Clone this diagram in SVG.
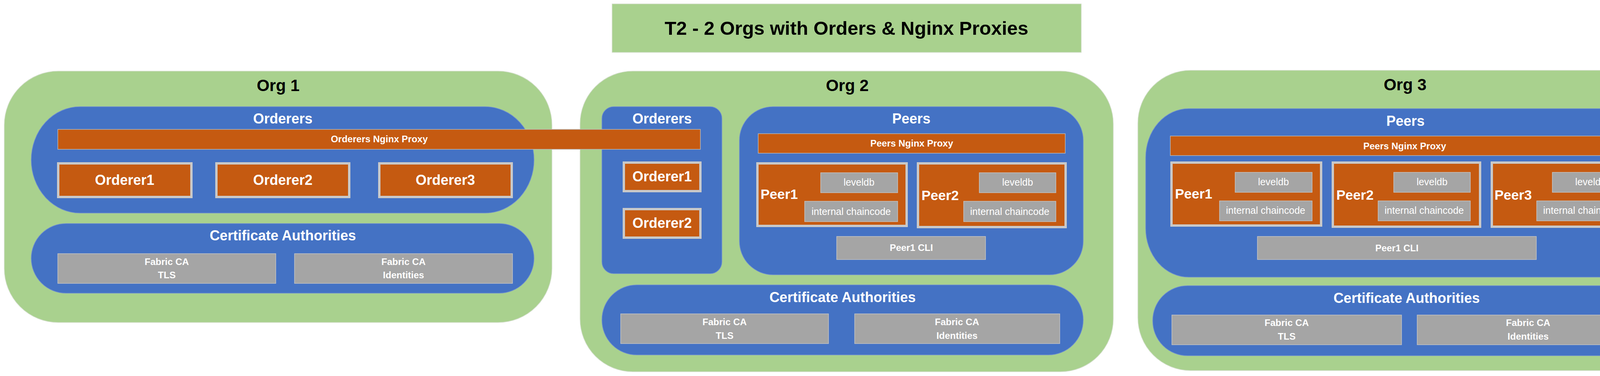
<svg xmlns="http://www.w3.org/2000/svg" width="4292" height="962" viewBox="0 0 4292 962">
<style>
  text { font-family: "Liberation Sans", Arial, sans-serif; font-weight: bold; fill: #ffffff; text-anchor: middle; }
  .org { fill: #A9D18E; stroke: #cfdcc6; stroke-width: 1.5; }
  .blue { fill: #4472C4; stroke: #6f8fcf; stroke-width: 1.5; }
  .bar { fill: #C55A11; stroke: #b8b8b8; stroke-width: 1.5; }
  .node { fill: #C55A11; stroke: #C9C9C9; stroke-width: 6; }
  .gray { fill: #A5A5A5; stroke: #c3c3c3; stroke-width: 1.5; }
  .title { fill: #000000; font-size: 42px; }
  .h2 { font-size: 36px; }
  .bt { font-size: 24px; }
  .nt { font-size: 36px; }
  .pt { font-size: 35px; text-anchor: start; }
  .lt { font-size: 25px; font-weight: normal; }
</style>

<g id="title">
  <rect x="1567" y="10" width="1201" height="124" fill="#A9D18E" stroke="#cfdcc6" stroke-width="1.5"/>
  <text x="2167" y="89" style="fill:#000000;font-size:49px">T2 - 2 Orgs with Orders &amp; Nginx Proxies</text>
</g>

<g id="org1">
  <rect class="org" x="11" y="182" width="1402" height="643" rx="138" ry="138"/>
  <text class="title" x="712" y="233">Org 1</text>
  <g id="org1-orderers">
    <rect class="blue" x="80" y="273" width="1287" height="272" rx="125" ry="136"/>
    <text class="h2" x="724" y="316">Orderers</text>
    <g id="org1-orderer1">
      <rect class="node" x="149" y="418" width="341" height="86"/>
      <text class="nt" x="319" y="473">Orderer1</text>
    </g>
    <g id="org1-orderer2">
      <rect class="node" x="554" y="418" width="340" height="86"/>
      <text class="nt" x="724" y="473">Orderer2</text>
    </g>
    <g id="org1-orderer3">
      <rect class="node" x="971" y="418" width="339" height="86"/>
      <text class="nt" x="1140" y="473">Orderer3</text>
    </g>
  </g>
  <g id="org1-ca">
    <rect class="blue" x="80" y="572" width="1287" height="178" rx="89" ry="89"/>
    <text class="h2" x="724" y="615">Certificate Authorities</text>
    <g id="org1-ca-tls">
      <rect class="gray" x="148" y="649" width="558" height="76"/>
      <text class="bt" x="427" y="678">Fabric CA</text>
      <text class="bt" x="427" y="712">TLS</text>
    </g>
    <g id="org1-ca-identities">
      <rect class="gray" x="754" y="649" width="558" height="76"/>
      <text class="bt" x="1033" y="678">Fabric CA</text>
      <text class="bt" x="1033" y="712">Identities</text>
    </g>
  </g>
</g>

<g id="org2">
  <rect class="org" x="1485" y="182" width="1365" height="769" rx="135" ry="135"/>
  <text class="title" x="2169" y="233">Org 2</text>
  <g id="org2-orderers">
    <rect class="blue" x="1541" y="273" width="307" height="427" rx="30" ry="30"/>
    <text class="h2" x="1695" y="316">Orderers</text>
    <g id="org2-orderer1">
      <rect class="node" x="1597" y="416" width="196" height="73"/>
      <text class="nt" x="1695" y="464">Orderer1</text>
    </g>
    <g id="org2-orderer2">
      <rect class="node" x="1597" y="535" width="196" height="73"/>
      <text class="nt" x="1695" y="583">Orderer2</text>
    </g>
  </g>
  <g id="org2-peers">
    <rect class="blue" x="1893" y="273" width="880" height="430" rx="86" ry="86"/>
    <text class="h2" x="2333" y="316">Peers</text>
    <g id="org2-peers-proxy">
      <rect class="bar" x="1941" y="342" width="786" height="50"/>
      <text class="bt" x="2334" y="375">Peers Nginx Proxy</text>
    </g>
    <g id="org2-peer1">
      <rect class="node" x="1939" y="418" width="382" height="160"/>
      <text class="pt" x="1947" y="509">Peer1</text>
      <rect class="gray" x="2101" y="442" width="197" height="51"/>
      <text class="lt" x="2199" y="475">leveldb</text>
      <rect class="gray" x="2060" y="515" width="238" height="52"/>
      <text class="lt" x="2179" y="550">internal chaincode</text>
    </g>
    <g id="org2-peer2">
      <rect class="node" x="2350" y="418" width="378" height="163"/>
      <text class="pt" x="2359" y="512">Peer2</text>
      <rect class="gray" x="2507" y="442" width="196" height="51"/>
      <text class="lt" x="2605" y="475">leveldb</text>
      <rect class="gray" x="2467" y="515" width="236" height="52"/>
      <text class="lt" x="2585" y="550">internal chaincode</text>
    </g>
    <g id="org2-peer1-cli">
      <rect class="gray" x="2142" y="605" width="381" height="59"/>
      <text class="bt" x="2333" y="642">Peer1 CLI</text>
    </g>
  </g>
  <g id="org2-ca">
    <rect class="blue" x="1541" y="729" width="1232" height="179" rx="89" ry="89"/>
    <text class="h2" x="2157" y="773">Certificate Authorities</text>
    <g id="org2-ca-tls">
      <rect class="gray" x="1589" y="803" width="532" height="76"/>
      <text class="bt" x="1855" y="832">Fabric CA</text>
      <text class="bt" x="1855" y="867">TLS</text>
    </g>
    <g id="org2-ca-identities">
      <rect class="gray" x="2188" y="803" width="525" height="76"/>
      <text class="bt" x="2450" y="832">Fabric CA</text>
      <text class="bt" x="2450" y="867">Identities</text>
    </g>
  </g>
</g>

<g id="org1-orderers-proxy">
  <rect class="bar" x="148" y="331" width="1645" height="51"/>
  <text class="bt" x="971" y="364">Orderers Nginx Proxy</text>
</g>

<g id="org3">
  <rect class="org" x="2913" y="180" width="1367" height="768" rx="135" ry="135"/>
  <text class="title" x="3597" y="231">Org 3</text>
  <g id="org3-peers">
    <rect class="blue" x="2933" y="278" width="1330" height="431" rx="110" ry="125"/>
    <text class="h2" x="3598" y="322">Peers</text>
    <g id="org3-peers-proxy">
      <rect class="bar" x="2996" y="348" width="1200" height="50"/>
      <text class="bt" x="3596" y="382">Peers Nginx Proxy</text>
    </g>
    <g id="org3-peer1">
      <rect class="node" x="2999" y="416" width="383" height="161"/>
      <text class="pt" x="3008" y="508">Peer1</text>
      <rect class="gray" x="3162" y="441" width="197" height="51"/>
      <text class="lt" x="3260" y="474">leveldb</text>
      <rect class="gray" x="3122" y="514" width="237" height="51"/>
      <text class="lt" x="3240" y="547">internal chaincode</text>
    </g>
    <g id="org3-peer2">
      <rect class="node" x="3412" y="416" width="377" height="164"/>
      <text class="pt" x="3421" y="511">Peer2</text>
      <rect class="gray" x="3568" y="441" width="196" height="51"/>
      <text class="lt" x="3666" y="474">leveldb</text>
      <rect class="gray" x="3528" y="514" width="236" height="51"/>
      <text class="lt" x="3646" y="547">internal chaincode</text>
    </g>
    <g id="org3-peer3">
      <rect class="node" x="3819" y="416" width="376" height="164"/>
      <text class="pt" x="3826" y="511">Peer3</text>
      <rect class="gray" x="3974" y="441" width="197" height="51"/>
      <text class="lt" x="4072" y="474">leveldb</text>
      <rect class="gray" x="3934" y="514" width="237" height="51"/>
      <text class="lt" x="4052" y="547">internal chaincode</text>
    </g>
    <g id="org3-peer1-cli">
      <rect class="gray" x="3219" y="605" width="714" height="59"/>
      <text class="bt" x="3576" y="643">Peer1 CLI</text>
    </g>
  </g>
  <g id="org3-ca">
    <rect class="blue" x="2951" y="731" width="1300" height="179" rx="89" ry="89"/>
    <text class="h2" x="3601" y="775">Certificate Authorities</text>
    <g id="org3-ca-tls">
      <rect class="gray" x="3000" y="806" width="588" height="76"/>
      <text class="bt" x="3294" y="834">Fabric CA</text>
      <text class="bt" x="3294" y="869">TLS</text>
    </g>
    <g id="org3-ca-identities">
      <rect class="gray" x="3628" y="806" width="568" height="76"/>
      <text class="bt" x="3912" y="834">Fabric CA</text>
      <text class="bt" x="3912" y="869">Identities</text>
    </g>
  </g>
</g>
</svg>
